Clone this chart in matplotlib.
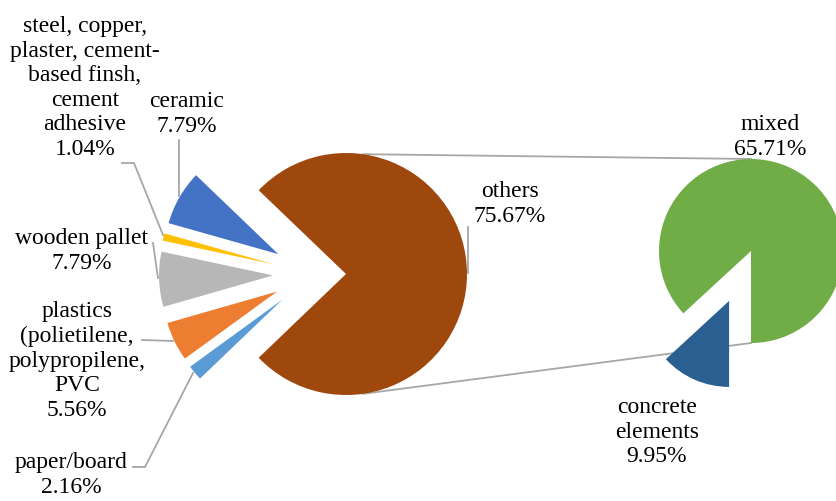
import numpy as np
import matplotlib
matplotlib.use("Agg")
import matplotlib.pyplot as plt

# left pie: the small fractions, then the combined "others" slice
left_labels = ["ceramic", "steel, copper,\nplaster, cement-\nbased finsh,\ncement\nadhesive",
               "wooden pallet", "plastics\n(polietilene,\npolypropilene,\nPVC", "paper/board", "others"]
left_values = [7.79, 1.04, 7.79, 5.56, 2.16, 75.67]
left_colors = ["#4472C4", "#FFC000", "#B7B7B7", "#ED7D31", "#5B9BD5", "#9E480E"]

# right pie: breakdown of "others"
right_labels = ["concrete\nelements", "mixed"]
right_values = [9.95, 65.71]
right_colors = ["#2B5E91", "#70AD47"]

plt.rcParams["font.family"] = ["Liberation Serif", "DejaVu Serif"]

fig = plt.figure(figsize=(8.37, 5.01), dpi=100)
ax = fig.add_axes([0, 0, 1, 1])

# left pie (explode is in data units here since radius is in pixels)
small_total = sum(left_values[:-1])
start_left = 180 - 3.6 * small_total / 2
wedges_l, _ = ax.pie(left_values, colors=left_colors, startangle=start_left,
                     center=(313, 227), radius=114,
                     explode=[40] * 5 + [33],
                     wedgeprops=dict(linewidth=0), frame=True)
wedges_l[-1].set_radius(121)

# right pie
conc_angle = 360 * right_values[0] / sum(right_values)
r_right = 92
wedges_r, _ = ax.pie(right_values, colors=right_colors, startangle=270 - conc_angle,
                     center=(751, 250), radius=r_right, explode=[54.5, 0],
                     wedgeprops=dict(linewidth=0), frame=True)
wedges_r[0].set_radius(86)

ax.set_xlim(0, 837)
ax.set_ylim(0, 501)
ax.set_aspect("equal")
ax.axis("off")

# connector lines between the pies
oc = wedges_l[-1].center
orad = wedges_l[-1].r
a = np.deg2rad(82)
ax.plot([oc[0] + orad * np.cos(a), 751], [oc[1] + orad * np.sin(a), 250 + r_right],
        color="#A6A6A6", lw=1.3, zorder=0.5)
ax.plot([oc[0] + orad * np.cos(a), 751], [oc[1] - orad * np.sin(a), 250 - r_right],
        color="#A6A6A6", lw=1.3, zorder=0.5)

# data labels
fs = 17
ls = 1.22
pcts = ["%.2f%%" % v for v in left_values]
label_pos = [(187, 387), (85, 413), (82, 250), (77, 140), (71, 26), (510, 297)]
for lab, p, (x, y) in zip(left_labels, pcts, label_pos):
    ax.text(x, y, lab + "\n" + p, ha="center", va="center", fontsize=fs, linespacing=ls)
rpcts = ["%.2f%%" % v for v in right_values]
ax.text(657, 69, right_labels[0] + "\n" + rpcts[0], ha="center", va="center", fontsize=fs, linespacing=ls)
ax.text(770, 364, right_labels[1] + "\n" + rpcts[1], ha="center", va="center", fontsize=fs, linespacing=ls)

# leader lines
lc = "#A6A6A6"
ax.plot([179, 179], [361, 305], color=lc, lw=1.3)
ax.plot([122, 134, 163], [338, 338, 266], color=lc, lw=1.3)
ax.plot([153, 158], [258, 223], color=lc, lw=1.3)
ax.plot([142, 173], [161, 160], color=lc, lw=1.3)
ax.plot([133, 145, 193], [34, 34, 128], color=lc, lw=1.3)
ax.plot([468, 468], [274, 228], color=lc, lw=1.3)

fig.savefig("out.png", dpi=100)
